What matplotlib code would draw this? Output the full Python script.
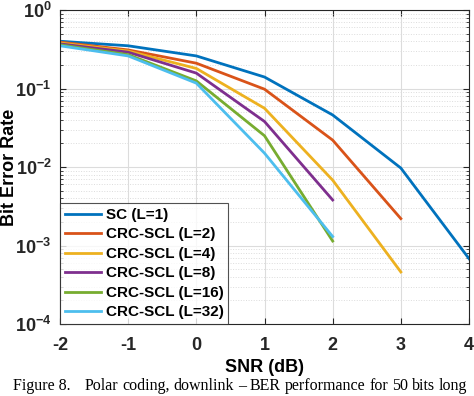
import numpy as np
import matplotlib
matplotlib.use("Agg")
from matplotlib import pyplot as plt
from matplotlib.ticker import LogLocator, FixedLocator, NullFormatter

plt.rcParams['font.family'] = ['Liberation Sans', 'DejaVu Sans']
plt.rcParams['mathtext.fontset'] = 'custom'
plt.rcParams['mathtext.rm'] = 'Liberation Sans:bold'
plt.rcParams['mathtext.bf'] = 'Liberation Sans:bold'

snr = [-2, -1, 0, 1, 2, 3, 4]
ber_sc = [0.40, 0.35, 0.26, 0.14, 0.046, 0.0097, 0.00068]
ber_l2 = [0.39, 0.31, 0.21, 0.098, 0.022, 0.0022]
ber_l4 = [0.38, 0.30, 0.18, 0.056, 0.0068, 0.00046]
ber_l8 = [0.37, 0.29, 0.157, 0.038, 0.0038]
ber_l16 = [0.36, 0.27, 0.125, 0.025, 0.00114]
ber_l32 = [0.35, 0.26, 0.117, 0.015, 0.0013]

series = [
    ("SC (L=1)", ber_sc, "#0072BD"),
    ("CRC-SCL (L=2)", ber_l2, "#D95319"),
    ("CRC-SCL (L=4)", ber_l4, "#EDB120"),
    ("CRC-SCL (L=8)", ber_l8, "#7E2F8E"),
    ("CRC-SCL (L=16)", ber_l16, "#77AC30"),
    ("CRC-SCL (L=32)", ber_l32, "#4DBEEE"),
]

caption_head = "Figure 8."
caption_body = "Polar coding, downlink \u2013 BER performance for 50 bits long"

fig = plt.figure(figsize=(4.74, 3.96), dpi=100)
ax = fig.add_axes([60 / 474, 1 - 324 / 396, 409 / 474, 314 / 396])

for name, ber, col in series:
    ax.semilogy(snr[:len(ber)], ber, color=col, lw=2.0, label=name)

ax.set_xlim(-2, 4)
ax.set_ylim(1e-4, 1)
ax.set_xticks(snr)
ax.set_xticklabels([str(s) for s in snr], fontweight='bold', fontsize=13)
ax.yaxis.set_major_locator(FixedLocator([1e-4, 1e-3, 1e-2, 1e-1, 1]))
ax.set_yticklabels([r'$10^{%d}$' % e for e in [-4, -3, -2, -1, 0]], fontsize=13)
ax.yaxis.set_minor_locator(LogLocator(base=10, subs=np.arange(2, 10), numticks=20))
ax.yaxis.set_minor_formatter(NullFormatter())

ax.grid(True, which='major', color='#dcdcdc', lw=0.8)
ax.grid(True, which='minor', axis='y', color='#dcdcdc', lw=0.7, ls=':')
ax.tick_params(direction='in', which='both', top=True, right=True, colors='#262626')
ax.tick_params(axis='x', pad=9)
ax.tick_params(axis='y', pad=6)
ax.tick_params(which='major', length=4)
ax.tick_params(which='minor', length=2)
for s in ax.spines.values():
    s.set_color('#262626')

ax.set_xlabel('SNR (dB)', fontweight='bold', fontsize=13, labelpad=4)
ax.set_ylabel('Bit Error Rate', fontweight='bold', fontsize=13)
ax.yaxis.set_label_coords(-0.103, 0.5)

leg = ax.legend(loc='lower left', prop={'weight': 'bold', 'size': 11},
                frameon=True, fancybox=False, edgecolor='#262626', borderaxespad=0,
                handlelength=2.4, handletextpad=0.3, labelspacing=0.36, borderpad=0.3)
leg.get_frame().set_linewidth(0.8)

# caption, justified to the figure width like the paper
fig.text(13 / 474, 1 - 390 / 396, caption_head, fontsize=11.5,
         family='Liberation Serif', ha='left', va='baseline')
words = caption_body.split(" ")
x0, x1 = 85, 467
fig.canvas.draw()
r = fig.canvas.get_renderer()
txts = [fig.text(0, 0, w, fontsize=11.5, family='Liberation Serif', va='baseline')
        for w in words]
widths = [t.get_window_extent(r).width for t in txts]
gap = (x1 - x0 - sum(widths)) / (len(words) - 1)
x = x0
for t, w in zip(txts, widths):
    t.set_position((x / 474, 1 - 390 / 396))
    x += w + gap

fig.savefig('out.png', dpi=100)
